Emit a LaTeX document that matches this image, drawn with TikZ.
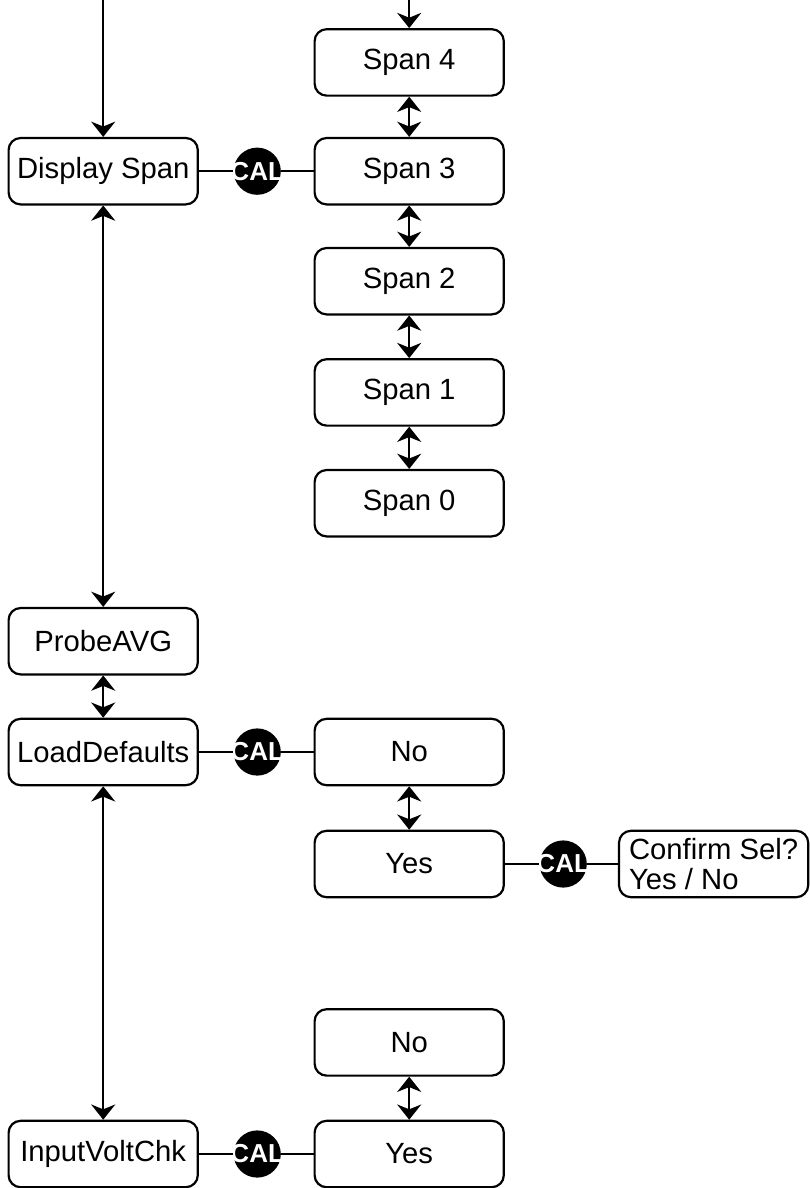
\documentclass[tikz,border=0pt]{standalone}
\usepackage{fontspec}
\setmainfont{Liberation Sans}
\usetikzlibrary{arrows.meta}

\begin{document}
\begin{tikzpicture}[menu/.style={rectangle, draw, rounded corners=0.3cm, line width=0.055cm, minimum width=4.73cm, minimum height=1.66cm, align=center, font=\fontsize{20.8}{21.5}\selectfont},
  cal/.style={circle, fill=black, minimum size=1.18cm, inner sep=0pt, text=white, font=\fontsize{18.5}{18.5}\selectfont\bfseries},
  link/.style={line width=0.055cm},
  >={Stealth[length=0.38cm, width=0.6cm, inset=0.12cm]}]
\useasboundingbox (0,0) rectangle (20.225,-29.7);
%%%%%%%%%%%%%%%%%%%
\node[menu] (disp) at (2.58,-4.28) {Display Span};
\node[menu] (probe) at (2.58,-16.03) {ProbeAVG};
\node[menu] (load) at (2.58,-18.8) {LoadDefaults};
\node[menu] (input) at (2.58,-28.85) {InputVoltChk};

\node[menu] (span4) at (10.23,-1.56) {Span 4};
\node[menu] (span3) at (10.23,-4.28) {Span 3};
\node[menu] (span2) at (10.23,-7.03) {Span 2};
\node[menu] (span1) at (10.23,-9.81) {Span 1};
\node[menu] (span0) at (10.23,-12.58) {Span 0};

\node[menu] (ldno) at (10.23,-18.8) {No};
\node[menu] (ldyes) at (10.23,-21.6) {Yes};
\node[menu, align=left] (confirm) at (17.84,-21.6) {Confirm Sel?\\Yes / No};

\node[menu] (ivno) at (10.23,-26.06) {No};
\node[menu] (ivyes) at (10.23,-28.85) {Yes};

%%%%%%%%%%%%%%%%%%%%%
\node[cal] (cal1) at (6.43,-4.28) {\makebox[0pt]{CAL}};
\node[cal] (cal2) at (6.43,-18.8) {\makebox[0pt]{CAL}};
\node[cal] (cal3) at (14.08,-21.6) {\makebox[0pt]{CAL}};
\node[cal] (cal4) at (6.43,-28.85) {\makebox[0pt]{CAL}};

\coordinate (inleft) at (2.58,0);
\coordinate (inright) at (10.23,0);

%%%%%%%%%%%%%%%%%%%
\draw[link] (disp) -- (cal1) -- (span3);
\draw[link] (load) -- (cal2) -- (ldno);
\draw[link] (ldyes) -- (cal3) -- (confirm);
\draw[link] (input) -- (cal4) -- (ivyes);

\draw[link, ->] (inleft) -- (disp.north);
\draw[link, ->] (inright) -- (span4.north);
\draw[link, <->] (disp.south) -- (probe.north);
\draw[link, <->] (probe.south) -- (load.north);
\draw[link, <->] (load.south) -- (input.north);
\draw[link, <->] (span4.south) -- (span3.north);
\draw[link, <->] (span3.south) -- (span2.north);
\draw[link, <->] (span2.south) -- (span1.north);
\draw[link, <->] (span1.south) -- (span0.north);
\draw[link, <->] (ldno.south) -- (ldyes.north);
\draw[link, <->] (ivno.south) -- (ivyes.north);
\end{tikzpicture}
\end{document}
